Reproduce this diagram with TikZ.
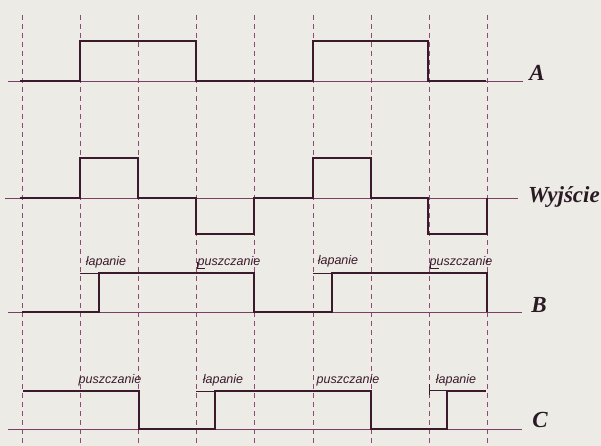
\documentclass[tikz,border=0pt]{standalone}
\usepackage{fontspec}
\setmainfont{Liberation Serif}
\newfontfamily\handfont{Liberation Sans}
\definecolor{paper}{HTML}{ECEBE6}
\definecolor{gridc}{HTML}{8E4A74}
\definecolor{basec}{HTML}{7A3E66}
\definecolor{sigc}{HTML}{3A1A2C}
\definecolor{inkc}{HTML}{2A1A24}
\begin{document}
\begin{tikzpicture}[x=1pt,y=-1pt,
  gridline/.style={draw=gridc,line width=0.9pt,dash pattern=on 5pt off 4pt},
  baseline/.style={draw=basec,line width=0.9pt},
  signal/.style={draw=sigc,line width=2.4pt,line join=miter},
  delay/.style={draw=sigc,line width=0.7pt},
  biglabel/.style={text=inkc,font=\fontsize{23}{23}\selectfont\bfseries\itshape,inner sep=0pt},
  smalllabel/.style={text=sigc,font=\handfont\fontsize{12.5}{12.5}\selectfont\itshape,inner sep=0pt}]
\fill[paper] (0,0) rectangle (601,446);
\useasboundingbox (0,0) rectangle (601,446);
% vertical dashed time marks
\foreach \x in {22,80,138,196,254,313,371,429,487}
  \draw[gridline] (\x,15) -- (\x,446);
% thin baselines
\draw[baseline] (8,81) -- (523,81);
\draw[baseline] (5,198) -- (518,198);
\draw[baseline] (8,312) -- (522,312);
\draw[baseline] (8,429) -- (522,429);
% signal A
\draw[signal] (20,81) -| (80,41) -| (196,81) -| (313,41) -| (428,81) -- (486,81);
% output
\draw[signal] (20,198) -| (80,158) -| (138,198) -| (196,234) -| (254,198) -| (313,158) -| (371,198) -| (428,234) -| (487,198);
% signal B
\draw[signal] (22,312) -| (99,273) -| (254,312) -| (332,273) -| (487,312);
% signal C
\draw[signal] (23,391) -| (139,429) -| (215,391) -| (371,429) -| (447,391) -- (486,391);
% delay marks
\draw[delay] (80,273) -- (99,273);
\draw[delay] (313,273) -- (332,273);
\draw[delay] (197,262) -- (197,268) -- (205,268);
\draw[delay] (430,262) -- (430,268) -- (439,268);
\draw[delay] (196,391) -- (215,391);
\draw[delay] (429,384) -- (429,395);
\draw[delay] (429,390) -- (447,390);
% row labels
\node[biglabel] (lA) at (537,73) {A};
\node[biglabel] (lW) at (564,197) {Wyjście};
\node[biglabel] (lB) at (539,305) {B};
\node[biglabel] (lC) at (540,420) {C};
% small labels
\node[smalllabel] (b1) at (106,262) {łapanie};
\node[smalllabel] (b2) at (229,262) {puszczanie};
\node[smalllabel] (b3) at (338,261) {łapanie};
\node[smalllabel] (b4) at (461,262) {puszczanie};
\node[smalllabel] (c1) at (110,380) {puszczanie};
\node[smalllabel] (c2) at (223,380) {łapanie};
\node[smalllabel] (c3) at (348,380) {puszczanie};
\node[smalllabel] (c4) at (456,380) {łapanie};
\end{tikzpicture}
\end{document}
